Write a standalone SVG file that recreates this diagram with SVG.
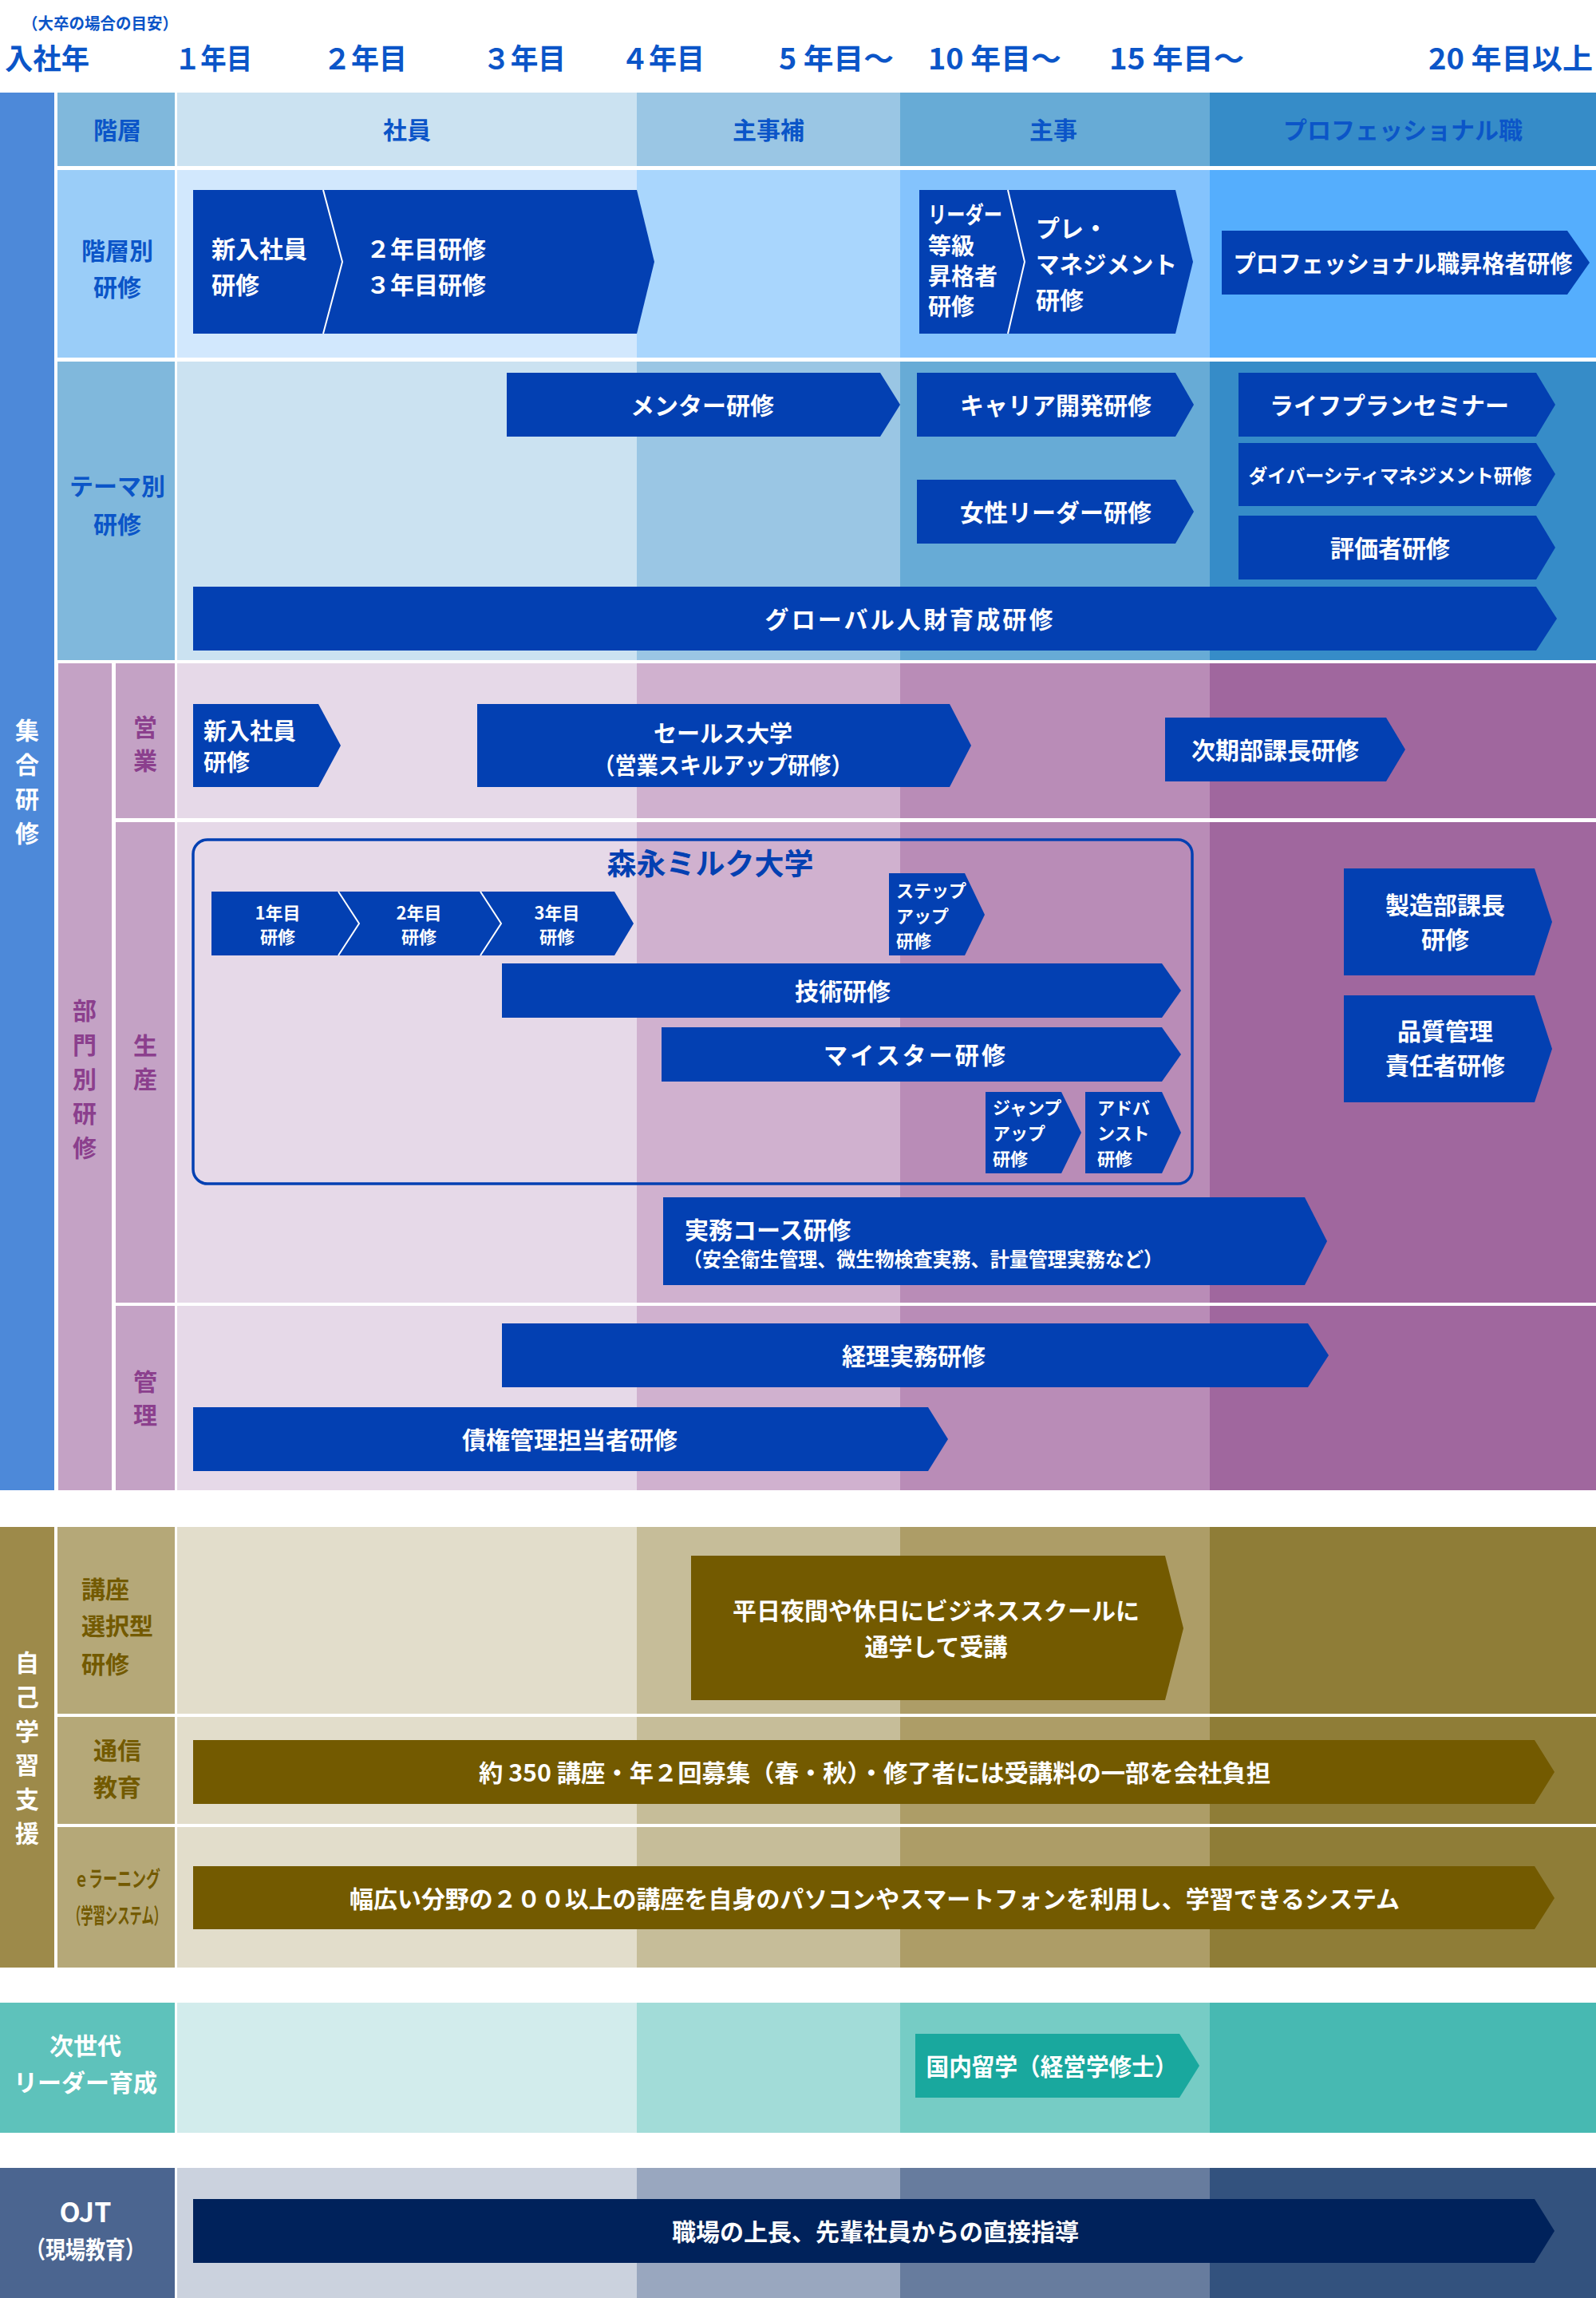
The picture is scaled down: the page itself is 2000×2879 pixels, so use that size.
<svg xmlns="http://www.w3.org/2000/svg" width="2000" height="2879" viewBox="0 0 2000 2879">
<style>
text{font-family:"Noto Sans CJK JP","Noto Sans",sans-serif;font-weight:700;dominant-baseline:central}
.yr{fill:#0b55c8;font-size:36px}
.lb{font-size:30px;text-anchor:middle}
.lbB{fill:#0b55c8}
.lbP{fill:#8b3f8d}
.lbO{fill:#735a00}
.lbW{fill:#ffffff}
.bt{fill:#ffffff;font-size:30px}
.mid{text-anchor:middle}
.sm{font-size:22px}
.box{fill:#0340b2}
.boxO{fill:#735a00}
.boxT{fill:#19a89e}
.boxN{fill:#00225b}
.div{fill:none;stroke:#ffffff;stroke-width:2}
</style>
<rect x="0" y="0" width="2000" height="2879" fill="#ffffff"/>

<g id="header">
<text x="28" y="28" style="fill:#0b55c8;font-size:20px" textLength="195" lengthAdjust="spacingAndGlyphs">（大卒の場合の目安）</text>
<text class="yr" x="6" y="71" textLength="106" lengthAdjust="spacingAndGlyphs">入社年</text>
<text class="yr" x="219" y="71" textLength="97" lengthAdjust="spacingAndGlyphs">１年目</text>
<text class="yr" x="405" y="71" textLength="105" lengthAdjust="spacingAndGlyphs">２年目</text>
<text class="yr" x="605" y="71" textLength="104" lengthAdjust="spacingAndGlyphs">３年目</text>
<text class="yr" x="778" y="71" textLength="105" lengthAdjust="spacingAndGlyphs">４年目</text>
<text class="yr" x="976" y="71" textLength="144" lengthAdjust="spacingAndGlyphs">5 年目〜</text>
<text class="yr" x="1163" y="71" textLength="167" lengthAdjust="spacingAndGlyphs">10 年目〜</text>
<text class="yr" x="1390" y="71" textLength="169" lengthAdjust="spacingAndGlyphs">15 年目〜</text>
<text class="yr" x="1790" y="71" textLength="206" lengthAdjust="spacingAndGlyphs">20 年目以上</text>
</g>

<g id="grid">
<rect x="0" y="116" width="68" height="1751" fill="#4d89d9"/>
<rect x="72" y="116" width="147" height="92" fill="#80b8dc"/>
<rect x="222" y="116" width="576" height="92" fill="#cbe2f1"/>
<rect x="798" y="116" width="330" height="92" fill="#9ac6e4"/>
<rect x="1128" y="116" width="388" height="92" fill="#67abd6"/>
<rect x="1516" y="116" width="484" height="92" fill="#368cc8"/>
<rect x="72" y="213" width="147" height="235" fill="#9acdf8"/>
<rect x="222" y="213" width="576" height="235" fill="#d2e8fd"/>
<rect x="798" y="213" width="330" height="235" fill="#a9d6fd"/>
<rect x="1128" y="213" width="388" height="235" fill="#84c3fd"/>
<rect x="1516" y="213" width="484" height="235" fill="#55aefd"/>
<rect x="72" y="453" width="147" height="374" fill="#80b8dc"/>
<rect x="222" y="453" width="576" height="374" fill="#cbe2f1"/>
<rect x="798" y="453" width="330" height="374" fill="#9ac6e4"/>
<rect x="1128" y="453" width="388" height="374" fill="#67abd6"/>
<rect x="1516" y="453" width="484" height="374" fill="#368cc8"/>
<rect x="73" y="831" width="67" height="1036" fill="#c4a2c5"/>
<rect x="145" y="831" width="74" height="194" fill="#c4a2c5"/>
<rect x="222" y="831" width="576" height="194" fill="#e6d9e8"/>
<rect x="798" y="831" width="330" height="194" fill="#d0b1cf"/>
<rect x="1128" y="831" width="388" height="194" fill="#b98cb7"/>
<rect x="1516" y="831" width="484" height="194" fill="#a0679e"/>
<rect x="145" y="1030" width="74" height="602" fill="#c4a2c5"/>
<rect x="222" y="1030" width="576" height="602" fill="#e6d9e8"/>
<rect x="798" y="1030" width="330" height="602" fill="#d0b1cf"/>
<rect x="1128" y="1030" width="388" height="602" fill="#b98cb7"/>
<rect x="1516" y="1030" width="484" height="602" fill="#a0679e"/>
<rect x="145" y="1636" width="74" height="231" fill="#c4a2c5"/>
<rect x="222" y="1636" width="576" height="231" fill="#e6d9e8"/>
<rect x="798" y="1636" width="330" height="231" fill="#d0b1cf"/>
<rect x="1128" y="1636" width="388" height="231" fill="#b98cb7"/>
<rect x="1516" y="1636" width="484" height="231" fill="#a0679e"/>

<rect x="0" y="1913" width="68" height="552" fill="#9d8a4a"/>
<rect x="72" y="1913" width="147" height="234" fill="#b5a878"/>
<rect x="222" y="1913" width="576" height="234" fill="#e2ddcb"/>
<rect x="798" y="1913" width="330" height="234" fill="#c6bd99"/>
<rect x="1128" y="1913" width="388" height="234" fill="#ad9d67"/>
<rect x="1516" y="1913" width="484" height="234" fill="#8f7d37"/>
<rect x="72" y="2151" width="147" height="134" fill="#b5a878"/>
<rect x="222" y="2151" width="576" height="134" fill="#e2ddcb"/>
<rect x="798" y="2151" width="330" height="134" fill="#c6bd99"/>
<rect x="1128" y="2151" width="388" height="134" fill="#ad9d67"/>
<rect x="1516" y="2151" width="484" height="134" fill="#8f7d37"/>
<rect x="72" y="2289" width="147" height="176" fill="#b5a878"/>
<rect x="222" y="2289" width="576" height="176" fill="#e2ddcb"/>
<rect x="798" y="2289" width="330" height="176" fill="#c6bd99"/>
<rect x="1128" y="2289" width="388" height="176" fill="#ad9d67"/>
<rect x="1516" y="2289" width="484" height="176" fill="#8f7d37"/>

<rect x="0" y="2509" width="219" height="163" fill="#5ec2bb"/>
<rect x="222" y="2509" width="576" height="163" fill="#d2ecec"/>
<rect x="798" y="2509" width="330" height="163" fill="#a2dcd8"/>
<rect x="1128" y="2509" width="388" height="163" fill="#76ccc5"/>
<rect x="1516" y="2509" width="484" height="163" fill="#47b9b2"/>

<rect x="0" y="2716" width="219" height="163" fill="#4b6590"/>
<rect x="222" y="2716" width="576" height="163" fill="#cbd2de"/>
<rect x="798" y="2716" width="330" height="163" fill="#99a7bf"/>
<rect x="1128" y="2716" width="388" height="163" fill="#677c9e"/>
<rect x="1516" y="2716" width="484" height="163" fill="#33527e"/>
</g>

<g id="labels">
<text class="lb lbB" x="147" y="161">階層</text>
<text class="lb lbB" x="510" y="161">社員</text>
<text class="lb lbB" x="963" y="161">主事補</text>
<text class="lb lbB" x="1320" y="161">主事</text>
<text class="lb lbB" x="1758" y="161">プロフェッショナル職</text>
<text class="lb lbB" x="147" y="312">階層別</text>
<text class="lb lbB" x="147" y="358">研修</text>
<text class="lb lbB" x="147" y="607">テーマ別</text>
<text class="lb lbB" x="147" y="655">研修</text>
<text class="lb lbW" x="34" y="913">集</text>
<text class="lb lbW" x="34" y="956">合</text>
<text class="lb lbW" x="34" y="999">研</text>
<text class="lb lbW" x="34" y="1042">修</text>
<text class="lb lbP" x="106" y="1264">部</text>
<text class="lb lbP" x="106" y="1307">門</text>
<text class="lb lbP" x="106" y="1350">別</text>
<text class="lb lbP" x="106" y="1393">研</text>
<text class="lb lbP" x="106" y="1436">修</text>
<text class="lb lbP" x="182" y="909">営</text>
<text class="lb lbP" x="182" y="951">業</text>
<text class="lb lbP" x="182" y="1308">生</text>
<text class="lb lbP" x="182" y="1350">産</text>
<text class="lb lbP" x="182" y="1729">管</text>
<text class="lb lbP" x="182" y="1771">理</text>
<text class="lb lbW" x="34" y="2081">自</text>
<text class="lb lbW" x="34" y="2124">己</text>
<text class="lb lbW" x="34" y="2167">学</text>
<text class="lb lbW" x="34" y="2209">習</text>
<text class="lb lbW" x="34" y="2252">支</text>
<text class="lb lbW" x="34" y="2295">援</text>
<text class="lbO" style="font-size:30px" x="102" y="1989">講座</text>
<text class="lbO" style="font-size:30px" x="102" y="2035">選択型</text>
<text class="lbO" style="font-size:30px" x="102" y="2083">研修</text>
<text class="lb lbO" x="147" y="2191">通信</text>
<text class="lb lbO" x="147" y="2237">教育</text>
<text class="lb lbO" style="font-size:27px" x="147" y="2352" textLength="108" lengthAdjust="spacingAndGlyphs">ｅラーニング</text>
<text class="lb lbO" style="font-size:27px" x="147" y="2398" textLength="122" lengthAdjust="spacingAndGlyphs">（学習システム）</text>
<text class="lb lbW" x="107" y="2561">次世代</text>
<text class="lb lbW" x="107" y="2607">リーダー育成</text>
<text class="lb lbW" x="107" y="2769" style="font-size:34px">OJT</text>
<text class="lb lbW" x="107" y="2816" textLength="150" lengthAdjust="spacingAndGlyphs">（現場教育）</text>
</g>

<g id="connectors"></g>

<g id="n-shinnyu-2-3">
<polygon class="box" points="242,238 798,238 820,328 798,418 242,418"/>
<polyline class="div" points="405,238 429,328 405,418"/>
<text class="bt" x="265" y="310">新入社員</text>
<text class="bt" x="265" y="355">研修</text>
<text class="bt" x="459" y="310">２年目研修</text>
<text class="bt" x="459" y="355">３年目研修</text>
</g>
<g id="n-leader-premgmt">
<polygon class="box" points="1152,238 1473,238 1495,328 1473,418 1152,418"/>
<polyline class="div" points="1263,238 1284,328 1263,418"/>
<text class="bt" style="font-size:29px" x="1163" y="267" textLength="93" lengthAdjust="spacingAndGlyphs">リーダー</text>
<text class="bt" style="font-size:29px" x="1163" y="306">等級</text>
<text class="bt" style="font-size:29px" x="1163" y="344">昇格者</text>
<text class="bt" style="font-size:29px" x="1163" y="382">研修</text>
<text class="bt" x="1298" y="284">プレ・</text>
<text class="bt" x="1298" y="329" textLength="177" lengthAdjust="spacingAndGlyphs">マネジメント</text>
<text class="bt" x="1298" y="374">研修</text>
</g>
<g id="n-pro">
<polygon class="box" points="1531,289 1964,289 1992,329 1964,369 1531,369"/>
<text class="bt mid" x="1758" y="328" textLength="425" lengthAdjust="spacingAndGlyphs">プロフェッショナル職昇格者研修</text>
</g>

<g id="n-mentor">
<polygon class="box" points="635,467 1103,467 1128,507 1103,547 635,547"/>
<text class="bt mid" x="880" y="506">メンター研修</text>
</g>
<g id="n-career">
<polygon class="box" points="1149,467 1473,467 1496,507 1473,547 1149,547"/>
<text class="bt mid" x="1323" y="506">キャリア開発研修</text>
</g>
<g id="n-lifeplan">
<polygon class="box" points="1552,467 1925,467 1949,507 1925,547 1552,547"/>
<text class="bt mid" x="1741" y="506">ライフプランセミナー</text>
</g>
<g id="n-diversity">
<polygon class="box" points="1552,555 1925,555 1949,594 1925,634 1552,634"/>
<text class="bt mid" style="font-size:24px" x="1742" y="594" textLength="355" lengthAdjust="spacingAndGlyphs">ダイバーシティマネジメント研修</text>
</g>
<g id="n-women">
<polygon class="box" points="1149,601 1473,601 1496,641 1473,681 1149,681"/>
<text class="bt mid" x="1323" y="640">女性リーダー研修</text>
</g>
<g id="n-evaluator">
<polygon class="box" points="1552,646 1925,646 1949,686 1925,726 1552,726"/>
<text class="bt mid" x="1742" y="685">評価者研修</text>
</g>
<g id="n-global">
<polygon class="box" points="242,735 1925,735 1951,775 1925,815 242,815"/>
<text class="bt mid" x="1139" y="774" textLength="361" lengthAdjust="spacing">グローバル人財育成研修</text>
</g>

<g id="n-sales-new">
<polygon class="box" points="242,882 399,882 427,934 399,986 242,986"/>
<text class="bt" style="font-size:29px" x="255" y="914">新入社員</text>
<text class="bt" style="font-size:29px" x="255" y="953">研修</text>
</g>
<g id="n-sales-univ">
<polygon class="box" points="598,882 1190,882 1217,934 1190,986 598,986"/>
<text class="bt mid" style="font-size:29px" x="906" y="917">セールス大学</text>
<text class="bt mid" style="font-size:29px" x="906" y="957" textLength="325" lengthAdjust="spacingAndGlyphs">（営業スキルアップ研修）</text>
</g>
<g id="n-next-manager">
<polygon class="box" points="1460,899 1737,899 1761,939 1737,979 1460,979"/>
<text class="bt mid" x="1598" y="938">次期部課長研修</text>
</g>

<g id="n-morinaga-univ">
<rect x="242" y="1052" width="1252" height="431" rx="18" ry="18" fill="none" stroke="#0340b2" stroke-width="3.5"/>
<text class="mid" style="fill:#0340b2;font-size:37px" x="890" y="1080">森永ミルク大学</text>
</g>
<g id="n-year-123">
<polygon class="box" points="265,1117 770,1117 794,1157 770,1197 265,1197"/>
<polyline class="div" points="424,1117 450,1157 424,1197"/>
<polyline class="div" points="602,1117 628,1157 602,1197"/>
<text class="bt sm mid" x="348" y="1142">1年目</text>
<text class="bt sm mid" x="348" y="1172">研修</text>
<text class="bt sm mid" x="525" y="1142">2年目</text>
<text class="bt sm mid" x="525" y="1172">研修</text>
<text class="bt sm mid" x="698" y="1142">3年目</text>
<text class="bt sm mid" x="698" y="1172">研修</text>
</g>
<g id="n-stepup">
<polygon class="box" points="1114,1094 1209,1094 1234,1146 1209,1197 1114,1197"/>
<text class="bt sm" x="1123" y="1114">ステップ</text>
<text class="bt sm" x="1123" y="1146">アップ</text>
<text class="bt sm" x="1123" y="1177">研修</text>
</g>
<g id="n-tech">
<polygon class="box" points="629,1207 1456,1207 1480,1241 1456,1275 629,1275"/>
<text class="bt mid" x="1056" y="1240">技術研修</text>
</g>
<g id="n-meister">
<polygon class="box" points="829,1287 1456,1287 1480,1321 1456,1355 829,1355"/>
<text class="bt mid" x="1146" y="1320" textLength="228" lengthAdjust="spacing">マイスター研修</text>
</g>
<g id="n-jumpup">
<polygon class="box" points="1235,1368 1330,1368 1355,1419 1330,1470 1235,1470"/>
<text class="bt sm" x="1244" y="1386">ジャンプ</text>
<text class="bt sm" x="1244" y="1418">アップ</text>
<text class="bt sm" x="1244" y="1450">研修</text>
</g>
<g id="n-advanced">
<polygon class="box" points="1360,1368 1456,1368 1480,1419 1456,1470 1360,1470"/>
<text class="bt sm" x="1375" y="1386">アドバ</text>
<text class="bt sm" x="1375" y="1418">ンスト</text>
<text class="bt sm" x="1375" y="1450">研修</text>
</g>
<g id="n-mfg-manager">
<polygon class="box" points="1684,1088 1923,1088 1945,1155 1923,1222 1684,1222"/>
<text class="bt mid" x="1811" y="1132">製造部課長</text>
<text class="bt mid" x="1811" y="1175">研修</text>
</g>
<g id="n-quality">
<polygon class="box" points="1684,1247 1923,1247 1945,1314 1923,1381 1684,1381"/>
<text class="bt mid" x="1811" y="1290">品質管理</text>
<text class="bt mid" x="1811" y="1333">責任者研修</text>
</g>
<g id="n-practical">
<polygon class="box" points="831,1500 1635,1500 1663,1555 1635,1610 831,1610"/>
<text class="bt" x="858" y="1539">実務コース研修</text>
<text class="bt" style="font-size:25px" x="856" y="1576" textLength="601" lengthAdjust="spacingAndGlyphs">（安全衛生管理、微生物検査実務、計量管理実務など）</text>
</g>

<g id="n-accounting">
<polygon class="box" points="629,1658 1639,1658 1665,1698 1639,1738 629,1738"/>
<text class="bt mid" x="1145" y="1697">経理実務研修</text>
</g>
<g id="n-credit">
<polygon class="box" points="242,1763 1163,1763 1188,1803 1163,1843 242,1843"/>
<text class="bt mid" x="714" y="1802">債権管理担当者研修</text>
</g>

<g id="n-bschool">
<polygon class="boxO" points="866,1949 1460,1949 1483,2040 1460,2130 866,2130"/>
<text class="bt mid" x="1173" y="2016">平日夜間や休日にビジネススクールに</text>
<text class="bt mid" x="1173" y="2061">通学して受講</text>
</g>
<g id="n-correspondence">
<polygon class="boxO" points="242,2180 1923,2180 1948,2220 1923,2260 242,2260"/>
<text class="bt mid" x="1096" y="2219" textLength="992" lengthAdjust="spacingAndGlyphs">約 350 講座・年２回募集（春・秋）・修了者には受講料の一部を会社負担</text>
</g>
<g id="n-elearning">
<polygon class="boxO" points="242,2338 1923,2338 1948,2378 1923,2417 242,2417"/>
<text class="bt mid" x="1096" y="2377" textLength="1316" lengthAdjust="spacingAndGlyphs">幅広い分野の２００以上の講座を自身のパソコンやスマートフォンを利用し、学習できるシステム</text>
</g>

<g id="n-domestic-mba">
<polygon class="boxT" points="1147,2548 1478,2548 1503,2588 1478,2628 1147,2628"/>
<text class="bt mid" x="1318" y="2587" textLength="315" lengthAdjust="spacingAndGlyphs">国内留学（経営学修士）</text>
</g>
<g id="n-ojt">
<polygon class="boxN" points="242,2755 1923,2755 1948,2795 1923,2835 242,2835"/>
<text class="bt mid" x="1097" y="2794">職場の上長、先輩社員からの直接指導</text>
</g>
</svg>
